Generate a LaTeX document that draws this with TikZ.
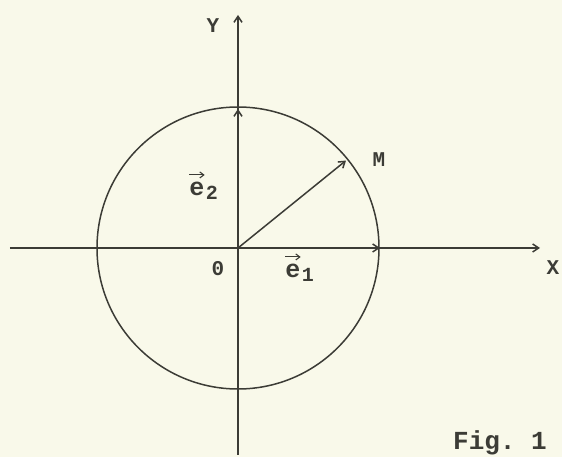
\documentclass[tikz,border=0pt]{standalone}
\usepackage{fontspec}
\setmonofont{Liberation Mono}
\usepackage{tikz}
\usetikzlibrary{arrows.meta,positioning}
\definecolor{paper}{HTML}{F9F9EA}
\definecolor{ink}{HTML}{3C3C36}

\begin{document}
\begin{tikzpicture}[x=1pt,y=1pt,>={Straight Barb[length=6pt,width=8pt]},
  lbl/.style={ink,font=\ttfamily\bfseries\fontsize{21}{23}\selectfont},
  vlbl/.style={ink,inner sep=0pt,font=\ttfamily\bfseries\fontsize{25}{27}\selectfont},
  sub/.style={ink,inner sep=0pt,font=\ttfamily\bfseries\fontsize{20}{22}\selectfont},
  axis/.style={ink,line width=1.5pt},
  hat/.style={ink,line width=1.1pt,-{Straight Barb[length=4pt,width=6pt]}}]
 \fill[paper] (-238,-209) rectangle (324,248);
 \useasboundingbox (-238,-209) rectangle (324,248);
 \coordinate (O) at (0,0);
 \coordinate (xs) at (-228,0);
 \coordinate (xe) at (302,0);
 \coordinate (ys) at (0,-207);
 \coordinate (ye) at (0,233);
 \coordinate (E1) at (142,0);
 \coordinate (E2) at (0,139);
 \coordinate (M) at (39:139);
 % axes
 \draw[axis,->] (xs)--(xe);
 \draw[axis,->] (ys)--(ye);
 \draw[axis] (O) circle (141);
 % vectors
 \draw[axis,->] (O)--(E1);
 \draw[axis,->] (O)--(E2);
 \draw[axis,->] (O)--(M);
 \node[lbl] (lx) at (315,-20) {X};
 \node[lbl] (ly) at (-25,222) {Y};
 \node[lbl] (lm) at (141,88) {M};
 \node[lbl] (lo) at (-20,-21) {0};
 % unit vector labels
 \node[vlbl] (le1) at (55,-23) {e};
 \node[sub,right=1pt of le1,yshift=-4pt] (s1) {1};
 \draw[hat] ([yshift=7pt]le1.north west)--([yshift=7pt]le1.north east);
 \node[vlbl] (le2) at (-41,59) {e};
 \node[sub,right=1pt of le2,yshift=-4pt] (s2) {2};
 \draw[hat] ([yshift=7pt]le2.north west)--([yshift=7pt]le2.north east);
 \node[ink,font=\ttfamily\bfseries\fontsize{26}{28}\selectfont] (fig) at (262,-195) {Fig. 1};
\end{tikzpicture}
\end{document}
